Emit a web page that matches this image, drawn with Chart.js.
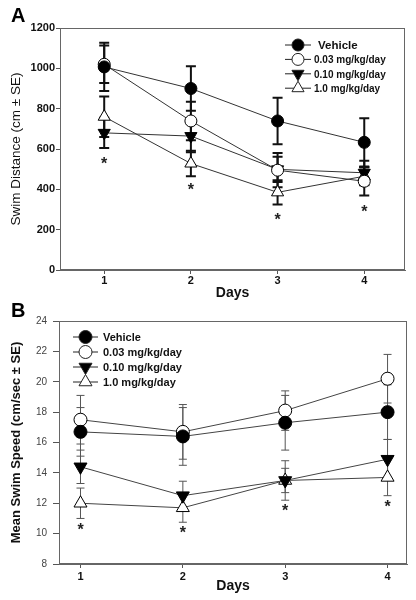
<!DOCTYPE html>
<html lang="en">
<head>
<meta charset="UTF-8">
<title>Swim Distance and Swim Speed</title>
<script src="https://cdn.jsdelivr.net/npm/chart.js"></script>
<style>
  body { margin: 0; background: #fff; }
  .panel { position: absolute; left: 0; width: 416px; height: 300px; }
</style>
</head>
<body>
<div class="panel" style="top:0"><canvas id="distanceChart" width="416" height="300"></canvas></div>
<div class="panel" style="top:300px"><canvas id="speedChart" width="416" height="300"></canvas></div>

<script>
// ---- data ----
const days = [1, 2, 3, 4];
const groups = ['Vehicle', '0.03 mg/kg/day', '0.10 mg/kg/day', '1.0 mg/kg/day'];

// Panel A: swim distance (cm) and SE
const distVehicle = [1007, 900, 739, 633];
const distLow = [1020, 739, 495, 440];
const distMid = [680, 664, 499, 482];
const distHigh = [760, 528, 385, 465];
const distVehicleSE = [120, 110, 115, 120];
const distLowSE = [93, 95, 85, 70];
const distMidSE = [75, 80, 63, 60];
const distHighSE = [100, 63, 60, 45];
const distStars = [545, 413, 264, 305];
const distTicks = [0, 200, 400, 600, 800, 1000, 1200];

// Panel B: mean swim speed (cm/sec) and SE
const speedVehicle = [16.7, 16.4, 17.3, 18.0];
const speedLow = [17.5, 16.7, 18.1, 20.2];
const speedMid = [14.4, 12.5, 13.5, 14.9];
const speedHigh = [12.0, 11.7, 13.5, 13.7];
const speedVehicleSE = [1.6, 1.9, 1.8, 1.8];
const speedLowSE = [1.6, 1.8, 1.3, 1.6];
const speedMidSE = [1.1, 0.95, 1.3, 1.3];
const speedHighSE = [1.0, 0.95, 0.8, 1.2];
const speedStars = [10.5, 10.3, 11.7, 12.0];
const speedTicks = [8, 10, 12, 14, 16, 18, 20, 22, 24];

const FONT = "'Liberation Sans', Arial, sans-serif";

// marker look for each group (same order as groups)
const markers = [
  { style: 'circle', rotation: 0, fill: '#000' },
  { style: 'circle', rotation: 0, fill: '#fff' },
  { style: 'triangle', rotation: 180, fill: '#000' },
  { style: 'triangle', rotation: 0, fill: '#fff' }
];

function toPoints(values, se) {
  return values.map((v, i) => ({ x: days[i], y: v, se: se[i] }));
}

// draw a marker by hand (used by the legend)
function drawMarker(ctx, m, x, y, r) {
  ctx.beginPath();
  if (m.style === 'circle') {
    ctx.arc(x, y, r, 0, Math.PI * 2);
  } else {
    let rad = m.rotation * Math.PI / 180;
    for (let k = 0; k < 3; k++) {
      const px = x + Math.sin(rad) * r, py = y - Math.cos(rad) * r;
      k === 0 ? ctx.moveTo(px, py) : ctx.lineTo(px, py);
      rad += Math.PI * 2 / 3;
    }
    ctx.closePath();
  }
  ctx.fillStyle = m.fill;
  ctx.fill();
  ctx.stroke();
}

// error bars with caps, behind the lines and markers
const errorBars = {
  id: 'errorBars',
  beforeDatasetsDraw(chart, args, opts) {
    const { ctx, scales: { x, y } } = chart;
    ctx.save();
    ctx.strokeStyle = opts.color;
    ctx.lineWidth = opts.width;
    chart.data.datasets.forEach(ds => {
      ds.data.forEach(p => {
        const px = x.getPixelForValue(p.x);
        const top = y.getPixelForValue(p.y + p.se);
        const bot = y.getPixelForValue(p.y - p.se);
        ctx.beginPath();
        ctx.moveTo(px, top); ctx.lineTo(px, bot);
        ctx.moveTo(px - opts.cap, top); ctx.lineTo(px + opts.cap, top);
        ctx.moveTo(px - opts.cap, bot); ctx.lineTo(px + opts.cap, bot);
        ctx.stroke();
      });
    });
    ctx.restore();
  }
};

// asterisks, frame, panel letter and legend
const extras = {
  id: 'extras',
  afterDraw(chart, args, opts) {
    const { ctx, chartArea: a, scales: { x, y } } = chart;
    ctx.save();
    // box around the plot
    ctx.strokeStyle = '#666';
    ctx.lineWidth = 1;
    ctx.strokeRect(a.left + 0.5, a.top + 0.5, a.right - a.left - 1, a.bottom - a.top - 1);

    // significance asterisks
    ctx.fillStyle = '#222';
    ctx.font = 'bold 16px ' + FONT;
    ctx.textAlign = 'center';
    ctx.textBaseline = 'alphabetic';
    const m = ctx.measureText('*');
    const shift = (m.actualBoundingBoxAscent - m.actualBoundingBoxDescent) / 2;
    opts.stars.forEach((v, i) => {
      ctx.fillText('*', x.getPixelForValue(days[i]), y.getPixelForValue(v) + shift);
    });

    // panel letter
    ctx.fillStyle = '#000';
    ctx.font = 'bold 20px ' + FONT;
    ctx.textAlign = 'left';
    ctx.textBaseline = 'alphabetic';
    ctx.fillText(opts.letter, 11, opts.letterY);

    // legend: line - marker - line, then label
    const lg = opts.legend;
    ctx.lineWidth = 1;
    ctx.strokeStyle = '#222';
    ctx.textBaseline = 'middle';
    groups.forEach((g, i) => {
      const cy = lg.y + i * lg.gap;
      ctx.beginPath();
      ctx.moveTo(lg.x, cy); ctx.lineTo(lg.x + lg.len, cy);
      ctx.stroke();
      const r = markers[i].style === 'circle' ? lg.r : lg.r + 1;
      drawMarker(ctx, markers[i], lg.x + lg.len / 2, cy, r);
      ctx.fillStyle = '#111';
      ctx.font = 'bold ' + (i === 0 ? lg.firstSize : lg.size) + 'px ' + FONT;
      ctx.fillText(g, lg.x + lg.len + lg.textGap + (i === 0 ? lg.firstShift : 0), cy + 1);
    });
    ctx.restore();
  }
};

function makeChart(id, p) {
  const series = [p.vehicle, p.low, p.mid, p.high];
  const datasets = series.map((s, i) => ({
    label: groups[i],
    data: toPoints(s[0], s[1]),
    borderColor: p.lineColor,
    borderWidth: 1,
    pointStyle: markers[i].style,
    rotation: markers[i].rotation,
    pointRadius: markers[i].style === 'circle' ? p.r : p.r + 1,
    pointBackgroundColor: markers[i].fill,
    pointBorderColor: '#000',
    pointBorderWidth: 1,
    tension: 0
  }));

  return new Chart(document.getElementById(id), {
    type: 'line',
    data: { datasets },
    options: {
      responsive: false,
      animation: false,
      devicePixelRatio: 1,
      layout: { padding: p.padding },
      plugins: {
        legend: { display: false },
        tooltip: { enabled: false },
        errorBars: p.errors,
        extras: { stars: p.stars, letter: p.letter, letterY: p.letterY, legend: p.legend }
      },
      scales: {
        x: {
          type: 'linear',
          min: p.xMin, max: p.xMax,
          afterBuildTicks: s => { s.ticks = days.map(v => ({ value: v })); },
          afterFit: s => { s.height = p.xHeight; },
          ticks: { font: { family: FONT, size: 11, weight: 'bold' }, color: '#111', padding: p.xTickPad, callback: v => String(v) },
          grid: { drawOnChartArea: false, drawTicks: true, tickLength: 4, color: '#555' },
          border: { color: '#666' },
          title: {
            display: true, text: 'Days', color: '#111',
            font: { family: FONT, size: 14, weight: 'bold', lineHeight: 1 },
            padding: { top: 0, bottom: p.xTitlePad }
          }
        },
        y: {
          min: p.yTicks[0], max: p.yTicks[p.yTicks.length - 1],
          afterBuildTicks: s => { s.ticks = p.yTicks.map(v => ({ value: v })); },
          afterFit: s => { s.width = p.yWidth; },
          ticks: { font: p.yTickFont, color: p.yTickColor, padding: p.yTickPad, callback: v => String(v) },
          grid: { drawOnChartArea: false, drawTicks: true, tickLength: p.yTickLen, color: '#555' },
          border: { color: '#666' },
          title: {
            display: true, text: p.yTitle, color: '#111',
            font: p.yTitleFont,
            padding: { top: p.yTitlePad, bottom: 0 }
          }
        }
      }
    },
    plugins: [errorBars, extras]
  });
}

// Panel A - swim distance
makeChart('distanceChart', {
  vehicle: [distVehicle, distVehicleSE],
  low: [distLow, distLowSE],
  mid: [distMid, distMidSE],
  high: [distHigh, distHighSE],
  stars: distStars,
  yTicks: distTicks,
  xMin: 0.49, xMax: 4.47,
  padding: { top: 28, right: 11, left: 0, bottom: 0 },
  xHeight: 30, xTickPad: 0, xTitlePad: 0,
  yWidth: 60, yTickPad: 1, yTickLen: 4,
  yTickFont: { family: FONT, size: 11, weight: 'bold' }, yTickColor: '#111',
  yTitle: 'Swim Distance (cm \u00b1 SE)',
  yTitleFont: { family: FONT, size: 13.5, weight: 'normal', lineHeight: 1 },
  yTitlePad: 10,
  lineColor: '#333', r: 6,
  errors: { color: '#111', width: 2, cap: 5 },
  letter: 'A', letterY: 22,
  legend: { x: 285, y: 45, gap: 14.4, len: 26, r: 6, textGap: 3, size: 10, firstSize: 11.5, firstShift: 4 }
});

// Panel B - mean swim speed
makeChart('speedChart', {
  vehicle: [speedVehicle, speedVehicleSE],
  low: [speedLow, speedLowSE],
  mid: [speedMid, speedMidSE],
  high: [speedHigh, speedHighSE],
  stars: speedStars,
  yTicks: speedTicks,
  xMin: 0.79, xMax: 4.19,
  padding: { top: 21, right: 9, left: 0, bottom: 0 },
  xHeight: 36, xTickPad: 2, xTitlePad: 7,
  yWidth: 59, yTickPad: 6, yTickLen: 6,
  yTickFont: { family: FONT, size: 10, weight: 'normal' }, yTickColor: '#444',
  yTitle: 'Mean Swim Speed (cm/sec \u00b1 SE)',
  yTitleFont: { family: FONT, size: 13, weight: 'bold', lineHeight: 1 },
  yTitlePad: 10,
  lineColor: '#444', r: 6.5,
  errors: { color: '#555', width: 1, cap: 4 },
  letter: 'B', letterY: 17,
  legend: { x: 73, y: 37, gap: 15, len: 25, r: 6.5, textGap: 5, size: 11, firstSize: 11, firstShift: 0 }
});
</script>
</body>
</html>
